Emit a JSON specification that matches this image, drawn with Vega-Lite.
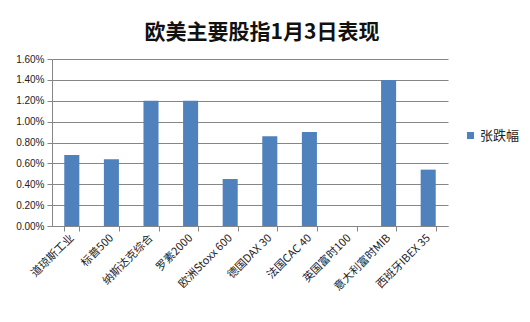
{
  "$schema": "https://vega.github.io/schema/vega-lite/v6.json",
  "autosize": "none",
  "width": 396,
  "height": 167,
  "padding": {"left": 52, "top": 59, "right": 82, "bottom": 96},
  "background": "white",
  "title": {
    "text": "欧美主要股指1月3日表现",
    "font": "Noto Sans CJK SC",
    "fontSize": 21,
    "fontWeight": "bold",
    "color": "#111111",
    "anchor": "middle",
    "dx": 12,
    "offset": 11
  },
  "data": {
    "values": [
      {"index": "道琼斯工业", "series": "张跌幅", "change": 0.0068},
      {"index": "标普500", "series": "张跌幅", "change": 0.0064},
      {"index": "纳斯达克综合", "series": "张跌幅", "change": 0.012},
      {"index": "罗素2000", "series": "张跌幅", "change": 0.012},
      {"index": "欧洲Stoxx 600", "series": "张跌幅", "change": 0.0045},
      {"index": "德国DAX 30", "series": "张跌幅", "change": 0.0086},
      {"index": "法国CAC 40", "series": "张跌幅", "change": 0.009},
      {"index": "英国富时100", "series": "张跌幅", "change": null},
      {"index": "意大利富时MIB", "series": "张跌幅", "change": 0.014},
      {"index": "西班牙IBEX 35", "series": "张跌幅", "change": 0.0054}
    ]
  },
  "mark": {"type": "bar"},
  "encoding": {
    "x": {
      "field": "index",
      "type": "nominal",
      "sort": null,
      "scale": {
        "domain": ["道琼斯工业", "标普500", "纳斯达克综合", "罗素2000", "欧洲Stoxx 600", "德国DAX 30", "法国CAC 40", "英国富时100", "意大利富时MIB", "西班牙IBEX 35"],
        "paddingInner": 0.62,
        "paddingOuter": 0.31
      },
      "axis": {
        "title": null,
        "labelAngle": -45,
        "labelAlign": "right",
        "labelBaseline": "middle",
        "labelFont": "Noto Sans CJK SC",
        "labelFontSize": 11,
        "labelColor": "#222222",
        "labelPadding": 5,
        "tickBand": "extent",
        "tickSize": 5,
        "tickColor": "#868686",
        "domainColor": "#868686",
        "grid": false
      }
    },
    "y": {
      "field": "change",
      "type": "quantitative",
      "scale": {"domain": [0, 0.016]},
      "axis": {
        "title": null,
        "format": ".2%",
        "values": [0, 0.002, 0.004, 0.006, 0.008, 0.01, 0.012, 0.014, 0.016],
        "labelFont": "Liberation Sans",
        "labelFontSize": 10,
        "labelColor": "#222222",
        "tickSize": 5,
        "tickColor": "#868686",
        "domainColor": "#868686",
        "gridColor": "#868686",
        "gridWidth": 1,
        "labelPadding": 3
      }
    },
    "color": {
      "field": "series",
      "type": "nominal",
      "scale": {"range": ["#4F81BD"]},
      "legend": {
        "title": null,
        "orient": "none",
        "legendX": 412,
        "legendY": 70,
        "symbolType": "square",
        "symbolSize": 50,
        "labelFont": "Noto Sans CJK SC",
        "labelFontSize": 13,
        "labelColor": "#222222",
        "labelOffset": 3
      }
    }
  },
  "config": {
    "view": {"stroke": null}
  }
}
